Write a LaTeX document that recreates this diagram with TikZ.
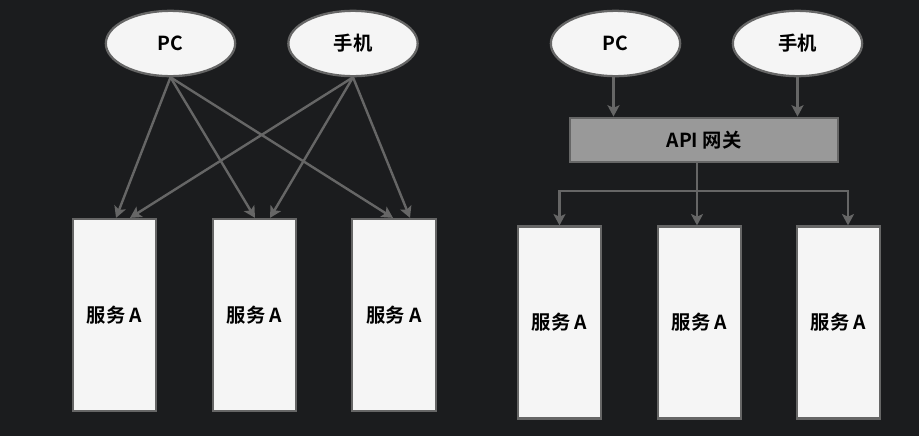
\documentclass[tikz,border=0pt]{standalone}
\usepackage{fontspec}
\newfontfamily\cjk{Noto Sans CJK SC}[BoldFont={* Bold}]
\usetikzlibrary{shapes.geometric,arrows.meta,calc}
\definecolor{bgc}{RGB}{27,28,30}
\definecolor{boxfill}{RGB}{245,245,245}
\definecolor{edgec}{RGB}{102,102,102}
\definecolor{gwfill}{RGB}{153,153,153}
\begin{document}
\begin{tikzpicture}[x=0.75pt,y=-0.75pt,
  lbl/.style={font=\cjk\bfseries\fontsize{14.5}{16}\selectfont, text=black},
  client/.style={lbl, ellipse, draw=edgec, line width=1.7pt, fill=boxfill,
     minimum width=97pt, minimum height=49pt, inner sep=0pt},
  svc/.style={lbl, rectangle, draw=edgec, line width=1.7pt, fill=boxfill,
     minimum width=62.5pt, minimum height=144pt, inner sep=0pt},
  gwbox/.style={lbl, rectangle, draw=edgec, line width=1.7pt, fill=gwfill,
     minimum width=201pt, minimum height=33.5pt, inner sep=0pt},
  arr/.style={draw=edgec, line width=1.8pt, -{Stealth[length=8.5pt,width=9pt,inset=2pt]}},
  ln/.style={draw=edgec, line width=1.8pt}]
\fill[bgc] (0,0) rectangle (919,436);
\useasboundingbox (0,0) rectangle (919,436);
% left side
\node[client] (pcL) at (170.5,43.5) {PC};
\node[client] (sjL) at (353,43.5) {手机};
\node[svc] (l1) at (114.5,315) {服务 A};
\node[svc] (l2) at (254.5,315) {服务 A};
\node[svc] (l3) at (394,315) {服务 A};
\draw[arr] (pcL.south) -- ($(l1.north)+(1.5,0)$);
\draw[arr] (pcL.south) -- ($(l2.north)+(0.5,0)$);
\draw[arr] (pcL.south) -- ($(l3.north)+(-1,0)$);
\draw[arr] (sjL.south) -- ($(l1.north)+(15.5,0)$);
\draw[arr] (sjL.south) -- ($(l2.north)+(15.5,0)$);
\draw[arr] (sjL.south) -- ($(l3.north)+(16,0)$);
% right side
\node[client] (pcR) at (615.5,43.5) {PC};
\node[client] (sjR) at (797.5,43.5) {手机};
\node[gwbox] (gw) at (704,140) {API 网关};
\node[svc] (r1) at (559.5,322.5) {服务 A};
\node[svc] (r2) at (699.5,322.5) {服务 A};
\node[svc] (r3) at (838.5,322.5) {服务 A};
\coordinate (hub) at (697,191);
\coordinate (r3in) at ($(r3.north)+(9.5,0)$);
\draw[arr] ($(pcR.south)+(-2,0)$) -- ($(pcR.south |- gw.north)+(-2,0)$);
\draw[arr] (sjR.south) -- (sjR.south |- gw.north);
\draw[ln] (gw.south -| hub) -- (hub);
\draw[arr] (hub) -| (r1.north);
\draw[arr] (hub) -- (hub |- r2.north);
\draw[arr] (hub) -| (r3in);
\end{tikzpicture}
\end{document}
